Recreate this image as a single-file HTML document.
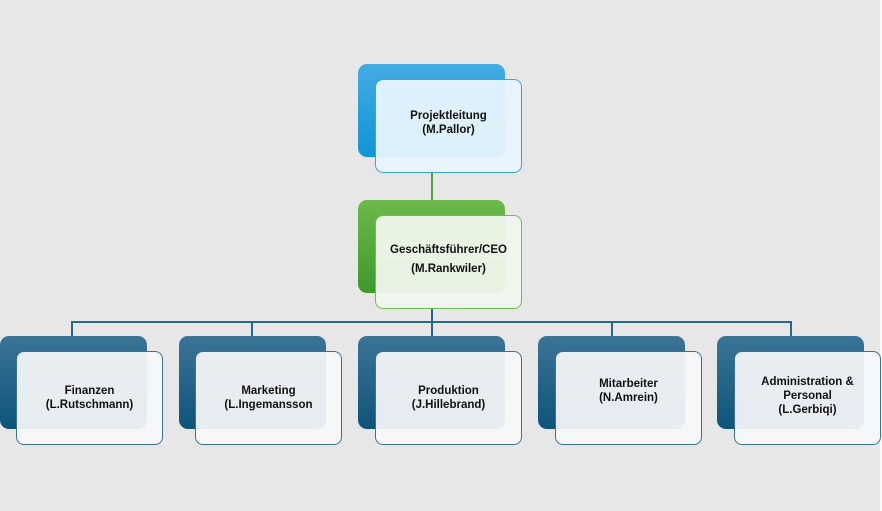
<!DOCTYPE html>
<html><head><meta charset="utf-8"><style>
body{margin:0;width:882px;height:511px;background:#e7e7e7;position:relative;overflow:hidden;font-family:"Liberation Sans",sans-serif}
.b{position:absolute;width:147px;height:93px;border-radius:9px}
.f{position:absolute;width:145px;height:92px;border-radius:8px;border:1px solid #3a7396;background:rgba(246,248,250,.93);display:flex;align-items:center;justify-content:center;text-align:center;font-size:11.5px;font-weight:bold;color:#111;line-height:14px;box-sizing:border-box}
.n{background:linear-gradient(#3b7497,#0d5479)}
.l{position:absolute;background:#236a8e}
</style></head><body>
<div style="position:absolute;right:0;top:0;width:2px;height:511px;background:#fafafa"></div>
<div class="b" style="left:358px;top:64px;background:linear-gradient(#45abe3,#0f95d6)"></div>
<div class="f" style="left:375px;top:79px;width:147px;height:94px;border-color:#3aa6d6;background:rgba(232,244,252,.95);padding-bottom:6px">Projektleitung<br>(M.Pallor)</div>
<div class="l" style="left:431px;top:173px;width:1.5px;height:27px;background:#4da53a"></div>
<div class="b" style="left:358px;top:200px;background:linear-gradient(#6cb94a,#3d9a2b)"></div>
<div class="f" style="left:375px;top:215px;width:147px;height:94px;border-color:#6ebc55;background:rgba(240,247,237,.95);line-height:19px;padding-bottom:4px">Geschäftsführer/CEO<br>(M.Rankwiler)</div>
<div class="l" style="left:431px;top:309px;width:1.5px;height:14px"></div>
<div class="l" style="left:71px;top:321px;width:721px;height:1.5px"></div>
<div class="l" style="left:71px;top:321px;width:1.5px;height:15px"></div>
<div class="l" style="left:251px;top:321px;width:1.5px;height:15px"></div>
<div class="l" style="left:431px;top:321px;width:1.5px;height:15px"></div>
<div class="l" style="left:611px;top:321px;width:1.5px;height:15px"></div>
<div class="l" style="left:790px;top:321px;width:1.5px;height:15px"></div>
<div class="b n" style="left:0;top:336px"></div>
<div class="b n" style="left:179px;top:336px"></div>
<div class="b n" style="left:358px;top:336px"></div>
<div class="b n" style="left:538px;top:336px"></div>
<div class="b n" style="left:717px;top:336px"></div>
<div class="f" style="left:16px;top:351px;width:147px;height:94px">Finanzen<br>(L.Rutschmann)</div>
<div class="f" style="left:195px;top:351px;width:147px;height:94px">Marketing<br>(L.Ingemansson</div>
<div class="f" style="left:375px;top:351px;width:147px;height:94px">Produktion<br>(J.Hillebrand)</div>
<div class="f" style="left:555px;top:351px;width:147px;height:94px;padding-bottom:14px">Mitarbeiter<br>(N.Amrein)</div>
<div class="f" style="left:734px;top:351px;width:147px;height:94px;padding-bottom:4px">Administration &amp;<br>Personal<br>(L.Gerbiqi)</div>
</body></html>
